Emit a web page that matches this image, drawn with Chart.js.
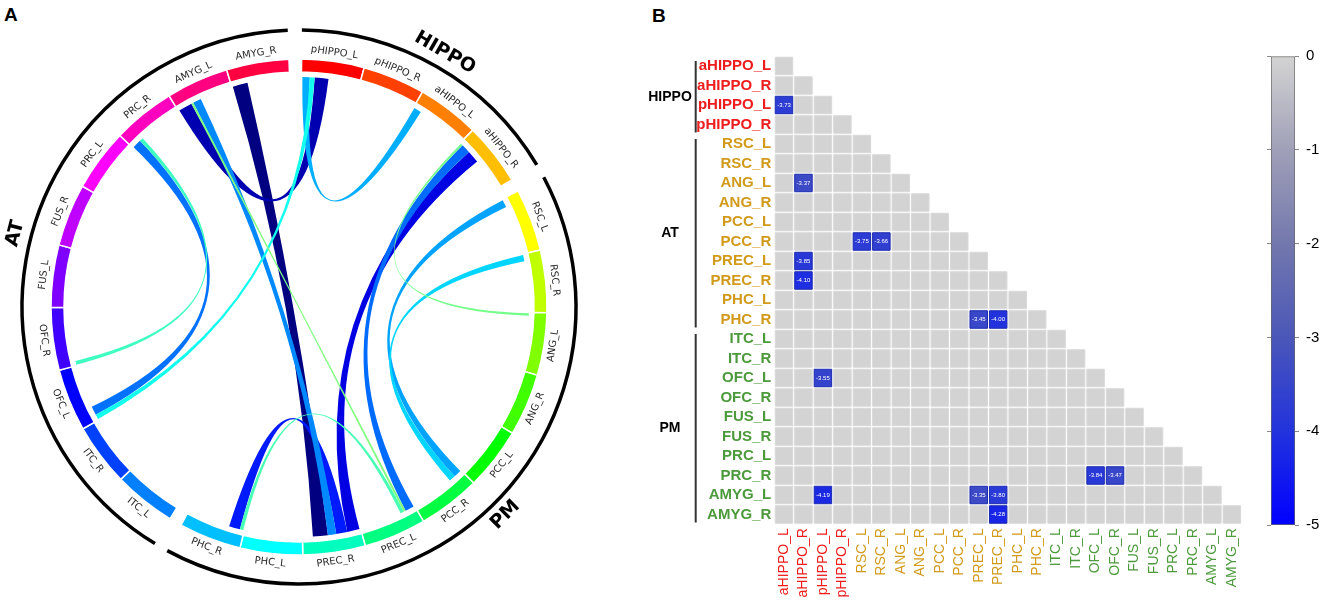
<!DOCTYPE html>
<html>
<head>
<meta charset="utf-8">
<script src="https://cdn.jsdelivr.net/npm/chart.js@4.4.1/dist/chart.umd.min.js"></script>
<style>
body{margin:0;background:#fff;width:1325px;height:605px;overflow:hidden;position:relative;font-family:'Liberation Sans',Arial,sans-serif}
canvas{position:absolute;top:0}
.tag{position:absolute;font-weight:bold;font-size:19px;line-height:19px}
</style>
</head>
<body>
<div class="tag" style="left:4px;top:5px">A</div>
<div class="tag" style="left:652px;top:6px">B</div>
<canvas id="chord" width="598" height="605" style="left:0"></canvas>
<canvas id="matrix" width="655" height="605" style="left:600px"></canvas>
<canvas id="cbar" width="85" height="605" style="left:1240px"></canvas>
<script>
// regions, matrix order (panel B)
const regions = ['aHIPPO_L','aHIPPO_R','pHIPPO_L','pHIPPO_R','RSC_L','RSC_R','ANG_L','ANG_R','PCC_L','PCC_R',
  'PREC_L','PREC_R','PHC_L','PHC_R','ITC_L','ITC_R','OFC_L','OFC_R','FUS_L','FUS_R','PRC_L','PRC_R','AMYG_L','AMYG_R'];
const matrixGroups = ['HIPPO','AT','PM'];
const matrixGroupSize = [4,10,10];
const groupColors = ['#ee1c1c','#d29a1a','#4c9a3c'];

// circle order (panel A), clockwise from top
const circleOrder = ['pHIPPO_L','pHIPPO_R','aHIPPO_L','aHIPPO_R','RSC_L','RSC_R','ANG_L','ANG_R','PCC_L','PCC_R',
  'PREC_L','PREC_R','PHC_L','PHC_R','ITC_L','ITC_R','OFC_L','OFC_R','FUS_L','FUS_R','PRC_L','PRC_R','AMYG_L','AMYG_R'];
const circleGroups = ['HIPPO','PM','AT'];
const circleGroupSize = [4,10,10];

// significant connections (t values)
const linkFrom = ['pHIPPO_L','pHIPPO_L','pHIPPO_L','aHIPPO_R','aHIPPO_R','aHIPPO_R','RSC_L','RSC_R',
  'PREC_L','PREC_L','PREC_R','PREC_R','PREC_R','OFC_L','OFC_R'];
const linkTo = ['aHIPPO_L','OFC_L','AMYG_L','ANG_L','PREC_L','PREC_R','PCC_R','PCC_R',
  'AMYG_L','PHC_R','PHC_R','AMYG_L','AMYG_R','PRC_R','PRC_R'];
const linkT = [-3.73,-3.55,-4.19,-3.37,-3.85,-4.10,-3.75,-3.66,-3.35,-3.45,-4.00,-3.80,-4.28,-3.84,-3.47];

// colour bar
const cbTicks = [0,-1,-2,-3,-4,-5];
const cbColors = ['#d3d3d3','#a0a0b8','#7378ad','#4b57b8','#2233dd','#0000ff'];

function hexRgb(h){ return [1,3,5].map(i => parseInt(h.substr(i,2),16)); }
function cellColor(v){
  const t = -v;
  const i = Math.min(Math.floor(t), cbTicks.length-2);
  const f = t - i;
  const a = hexRgb(cbColors[i]), b = hexRgb(cbColors[i+1]);
  const c = a.map((x,k) => Math.round(x + (b[k]-x)*f));
  return 'rgb(' + c.join(',') + ')';
}
function jet(t){
  const cl = x => Math.max(0, Math.min(1, x));
  const r = cl(1.5 - Math.abs(4*t - 3)), g = cl(1.5 - Math.abs(4*t - 2)), b = cl(1.5 - Math.abs(4*t - 1));
  return 'rgb(' + [r,g,b].map(x => Math.round(x*255)).join(',') + ')';
}
function groupColorOf(i){
  let acc = 0;
  for (let g = 0; g < matrixGroupSize.length; g++){ acc += matrixGroupSize[g]; if (i < acc) return groupColors[g]; }
  return '#000';
}

// ---------- panel A : ring + chords ----------
const ringNames = [], ringData = [], ringColors = [], ringBorder = [];
let k = 0, hueIdx = 0;
circleGroupSize.forEach(n => {
  for (let i = 0; i < n; i++){
    ringNames.push(circleOrder[k++]); ringData.push(1);
    ringColors.push('hsl(' + (hueIdx++ * 15) + ',100%,50%)'); ringBorder.push(1.5);
  }
  ringNames.push(null); ringData.push(0.2); ringColors.push('rgba(0,0,0,0)'); ringBorder.push(0);
});

const chordPlugin = {
  id: 'chords',
  afterDatasetsDraw(chart){
    const ctx = chart.ctx;
    const arcs = chart.getDatasetMeta(0).data;
    const cx = arcs[0].x, cy = arcs[0].y;
    const rIn = arcs[0].innerRadius, rOut = arcs[0].outerRadius;
    const rc = rIn - 5;
    const seg = name => arcs[ringNames.indexOf(name)];
    const cursor = {};
    const place = (name, w) => {
      const a = seg(name);
      const used = cursor[name] || 1;
      cursor[name] = used + w;
      const a0 = a.startAngle + used / rc;
      return [a0, a0 + w / rc];
    };
    const ribbons = linkFrom.map((f, i) => {
      const w = Math.max(2, (Math.abs(linkT[i]) - 3.2) * 14);
      return {s: place(f, w), t: place(linkTo[i], w), v: linkT[i]};
    });
    ribbons.sort((a, b) => a.v - b.v);
    ctx.save();
    ribbons.forEach(r => {
      const [s0, s1] = r.s, [t0, t1] = r.t;
      ctx.beginPath();
      ctx.arc(cx, cy, rc, s0, s1);
      ctx.quadraticCurveTo(cx, cy, cx + rc*Math.cos(t0), cy + rc*Math.sin(t0));
      ctx.arc(cx, cy, rc, t0, t1);
      ctx.quadraticCurveTo(cx, cy, cx + rc*Math.cos(s0), cy + rc*Math.sin(s0));
      ctx.closePath();
      ctx.fillStyle = jet((r.v + 4.28) / 1.86);
      ctx.fill();
    });

    const drawTangent = (text, mid, r) => {
      let th = mid + Math.PI/2;
      th = ((th % (2*Math.PI)) + 2*Math.PI) % (2*Math.PI);
      ctx.save();
      ctx.translate(cx, cy);
      ctx.rotate(th);
      ctx.translate(0, -r);
      if (th > Math.PI/2 && th < 3*Math.PI/2) ctx.rotate(Math.PI);
      ctx.fillText(text, 0, 0);
      ctx.restore();
    };
    // segment labels
    ctx.font = '10px "DejaVu Sans"';
    ctx.fillStyle = '#2a2a2a';
    ctx.textAlign = 'center';
    ctx.textBaseline = 'middle';
    ringNames.forEach((n, i) => {
      if (!n) return;
      const a = arcs[i];
      drawTangent(n, (a.startAngle + a.endAngle)/2, rOut + 9);
    });
    // group arcs and names
    let idx = 0;
    circleGroupSize.forEach((n, g) => {
      const first = arcs[idx], last = arcs[idx + n - 1];
      idx += n + 1;
      ctx.beginPath();
      ctx.arc(cx, cy, rOut + 29, first.startAngle, last.endAngle);
      ctx.lineWidth = 3.5;
      ctx.strokeStyle = '#000';
      ctx.stroke();
      ctx.font = 'bold 19px "DejaVu Sans"';
      ctx.fillStyle = '#000';
      drawTangent(circleGroups[g], (first.startAngle + last.endAngle)/2, rOut + 45);
    });
    ctx.restore();
  }
};

new Chart(document.getElementById('chord'), {
  type: 'doughnut',
  data: {
    labels: ringNames.map(n => n || ''),
    datasets: [{
      data: ringData,
      backgroundColor: ringColors,
      borderColor: '#fff',
      borderWidth: ringBorder
    }]
  },
  options: {
    responsive: false,
    animation: false,
    events: [],
    rotation: 0.6,
    radius: 248,
    cutout: (235/248*100) + '%',
    layout: {padding: {top: 9}},
    plugins: {legend: {display: false}, tooltip: {enabled: false}}
  },
  plugins: [chordPlugin]
});

// ---------- panel B : lower-triangle matrix ----------
const cellVal = {};
linkFrom.forEach((f, i) => {
  const a = regions.indexOf(f), b = regions.indexOf(linkTo[i]);
  cellVal[Math.max(a,b) + ',' + Math.min(a,b)] = linkT[i];
});
const cells = [];
regions.forEach((rn, i) => {
  for (let j = 0; j <= i; j++) cells.push({x: regions[j], y: rn, v: cellVal[i + ',' + j] || 0});
});

const bracketPlugin = {
  id: 'brackets',
  afterDatasetsDraw(chart){
    const ctx = chart.ctx;
    const ys = chart.scales.y;
    const pts = chart.getDatasetMeta(0).data;
    ctx.save();
    ctx.textAlign = 'center';
    ctx.textBaseline = 'middle';
    pts.forEach((p, i) => {
      const v = cells[i].v;
      if (!v) return;
      ctx.font = '6px "Liberation Sans", Arial';
      ctx.fillStyle = '#fff';
      ctx.fillText(v.toFixed(2), p.x, p.y);
    });
    let start = 0;
    matrixGroupSize.forEach((n, g) => {
      const y0 = ys.getPixelForValue(start) - 5;
      const y1 = ys.getPixelForValue(start + n - 1) + 8;
      ctx.beginPath();
      ctx.moveTo(95.7, y0);
      ctx.lineTo(95.7, y1);
      ctx.lineWidth = 2;
      ctx.strokeStyle = '#333';
      ctx.stroke();
      ctx.font = 'bold 14px "Liberation Sans", Arial';
      ctx.fillStyle = '#000';
      ctx.fillText(matrixGroups[g], 70, (y0 + y1)/2);
      start += n;
    });
    ctx.restore();
  }
};

new Chart(document.getElementById('matrix'), {
  type: 'scatter',
  data: {
    datasets: [{
      data: cells,
      pointStyle: 'rect',
      pointRadius: 12.37,
      pointHoverRadius: 12.37,
      backgroundColor: c => cellColor(c.raw ? c.raw.v : 0),
      borderColor: c => (c.raw && c.raw.v) ? '#1b2bb0' : '#d9d9d9',
      borderWidth: 1
    }]
  },
  options: {
    responsive: false,
    animation: false,
    events: [],
    layout: {padding: {top: 56.25, right: 12.75, left: 0, bottom: 0}},
    scales: {
      x: {
        type: 'category', labels: regions, offset: true,
        grid: {display: false}, border: {display: false},
        ticks: {autoSkip: false, minRotation: 90, maxRotation: 90, padding: -4,
          color: c => groupColorOf(c.index), font: {size: 14, family: '"Liberation Sans", Arial'}},
        afterFit: s => { s.height = 80.75; }
      },
      y: {
        type: 'category', labels: regions, offset: true,
        grid: {display: false}, border: {display: false},
        ticks: {autoSkip: false, padding: -5,
          color: c => groupColorOf(c.index), font: {size: 15, weight: 'bold', family: '"Liberation Sans", Arial'}},
        afterFit: s => { s.width = 174.25; }
      }
    },
    plugins: {legend: {display: false}, tooltip: {enabled: false}}
  },
  plugins: [bracketPlugin]
});

// ---------- colour bar ----------
new Chart(document.getElementById('cbar'), {
  type: 'bar',
  data: {
    labels: [''],
    datasets: [{
      data: [[cbTicks[cbTicks.length-1], cbTicks[0]]],
      backgroundColor: c => {
        const ch = c.chart;
        if (!ch.chartArea) return cbColors[0];
        const ys = ch.scales.y;
        const g = ch.ctx.createLinearGradient(0, ys.getPixelForValue(cbTicks[0]), 0, ys.getPixelForValue(cbTicks[cbTicks.length-1]));
        cbTicks.forEach((v, i) => g.addColorStop(i/(cbTicks.length-1), cbColors[i]));
        return g;
      },
      borderColor: '#666',
      borderWidth: 1,
      borderSkipped: false,
      barPercentage: 1,
      categoryPercentage: 1
    }]
  },
  options: {
    responsive: false,
    animation: false,
    events: [],
    layout: {padding: {top: 56, bottom: 80, left: 0, right: 0}},
    scales: {
      x: {display: false},
      y: {
        position: 'right', min: -5, max: 0,
        border: {display: false},
        grid: {drawOnChartArea: false, tickLength: 4, color: '#888'},
        ticks: {stepSize: 1, padding: 7, color: '#000', font: {size: 15, family: '"Liberation Sans", Arial'}},
        afterFit: s => { s.width = 30; }
      },
      yl: {
        position: 'left', min: -5, max: 0,
        border: {display: false},
        grid: {drawOnChartArea: false, tickLength: 4, color: '#888'},
        ticks: {stepSize: 1, display: false},
        afterFit: s => { s.width = 31; }
      }
    },
    plugins: {legend: {display: false}, tooltip: {enabled: false}}
  }
});
</script>
</body>
</html>
